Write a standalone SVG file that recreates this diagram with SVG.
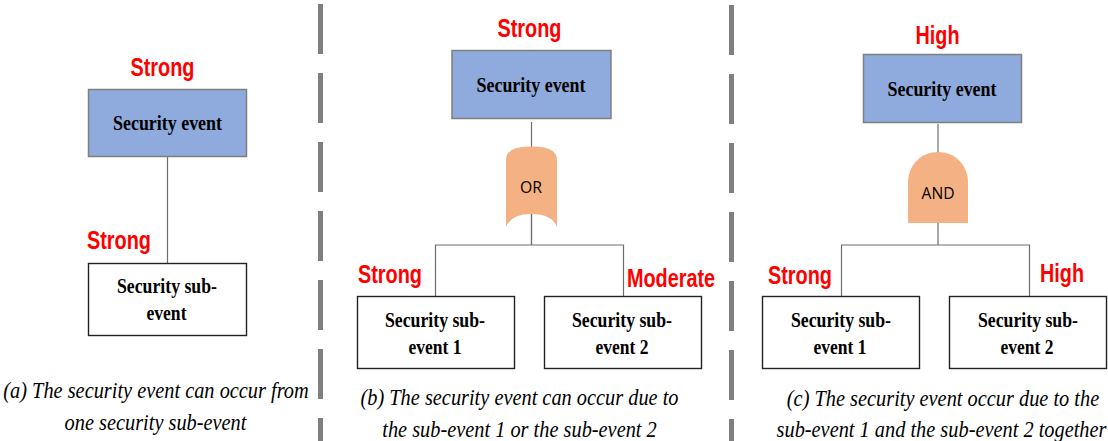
<svg xmlns="http://www.w3.org/2000/svg" width="1108" height="441" viewBox="0 0 1108 441">
<style>
.div{stroke:#7f7f7f;stroke-width:5;stroke-dasharray:50 19;fill:none}
.c{stroke:#6e6e6e;stroke-width:1.2;fill:none}
.top{fill:#8faadc;stroke:#7f7f7f;stroke-width:1.5}
.sub{fill:#fff;stroke:#222;stroke-width:1.4}
.gate{fill:#f4b183}
.r{font:bold 25px "Liberation Sans",Arial,sans-serif;fill:#f00;text-anchor:middle}
.n{font:bold 20px "Liberation Serif","Times New Roman",serif;fill:#000;text-anchor:middle}
.g{font:17px "Open Sans","Noto Sans",sans-serif;fill:#000;text-anchor:middle}
.cap{font:italic 23px "Liberation Serif","Times New Roman",serif;fill:#000;text-anchor:middle}
</style>
<rect width="1108" height="441" fill="#fff"/>
<g id="dividers">
<path class="div" d="M320.500 4V441"/>
<path class="div" d="M731.500 5V441"/>
</g>
<g id="connectors">
<path class="c" d="M167.500 157V263"/>
<path class="c" d="M531.500 122V245M435.500 296V245H623.500V296"/>
<path class="c" d="M938 124V245M841.500 296V245H1029.500V296"/>
</g>
<g id="a-top"><rect class="top" x="88.500" y="89.500" width="158" height="67"/><text class="n" x="167.500" y="130" textLength="109" lengthAdjust="spacingAndGlyphs">Security event</text></g>
<g id="a-sub"><rect class="sub" x="88.500" y="263.500" width="158" height="72"/><text class="n" x="167" y="293" textLength="100" lengthAdjust="spacingAndGlyphs">Security sub-</text><text class="n" x="166.500" y="320" textLength="40" lengthAdjust="spacingAndGlyphs">event</text></g>
<g id="b-top"><rect class="top" x="452" y="50.500" width="159" height="68"/><text class="n" x="531" y="92" textLength="109" lengthAdjust="spacingAndGlyphs">Security event</text></g>
<g id="b-or"><path class="gate" d="M506 227V160Q506 146 531 146.500Q557 146 557 160V227Q552 214 531 214Q511 214 506 227Z"/><path class="c" d="M531.500 214V245"/><text class="g" x="531" y="193" textLength="22" lengthAdjust="spacingAndGlyphs">OR</text></g>
<g id="b-sub1"><rect class="sub" x="357.500" y="296.500" width="157" height="72"/><text class="n" x="435" y="327" textLength="100" lengthAdjust="spacingAndGlyphs">Security sub-</text><text class="n" x="435" y="354" textLength="53" lengthAdjust="spacingAndGlyphs">event 1</text></g>
<g id="b-sub2"><rect class="sub" x="544.500" y="296.500" width="157" height="72"/><text class="n" x="622" y="327" textLength="100" lengthAdjust="spacingAndGlyphs">Security sub-</text><text class="n" x="622" y="354" textLength="53" lengthAdjust="spacingAndGlyphs">event 2</text></g>
<g id="c-top"><rect class="top" x="863.500" y="54.500" width="158" height="68"/><text class="n" x="942" y="96" textLength="109" lengthAdjust="spacingAndGlyphs">Security event</text></g>
<g id="c-and"><path class="gate" d="M908 223V183C908 164 922 152 938 152C954 152 968 164 968 183V223Z"/><text class="g" x="938" y="199" textLength="33" lengthAdjust="spacingAndGlyphs">AND</text></g>
<g id="c-sub1"><rect class="sub" x="762.500" y="296.500" width="157" height="72"/><text class="n" x="841" y="327" textLength="100" lengthAdjust="spacingAndGlyphs">Security sub-</text><text class="n" x="840" y="354" textLength="53" lengthAdjust="spacingAndGlyphs">event 1</text></g>
<g id="c-sub2"><rect class="sub" x="949.500" y="296.500" width="157" height="72"/><text class="n" x="1028" y="327" textLength="100" lengthAdjust="spacingAndGlyphs">Security sub-</text><text class="n" x="1027" y="354" textLength="53" lengthAdjust="spacingAndGlyphs">event 2</text></g>
<g id="labels">
<text class="r" x="162.500" y="76" textLength="64" lengthAdjust="spacingAndGlyphs">Strong</text>
<text class="r" x="119" y="249" textLength="64" lengthAdjust="spacingAndGlyphs">Strong</text>
<text class="r" x="529.500" y="37" textLength="64" lengthAdjust="spacingAndGlyphs">Strong</text>
<text class="r" x="390" y="283" textLength="64" lengthAdjust="spacingAndGlyphs">Strong</text>
<text class="r" x="671" y="287" textLength="88" lengthAdjust="spacingAndGlyphs">Moderate</text>
<text class="r" x="937.500" y="44" textLength="44" lengthAdjust="spacingAndGlyphs">High</text>
<text class="r" x="800" y="284" textLength="64" lengthAdjust="spacingAndGlyphs">Strong</text>
<text class="r" x="1062" y="282" textLength="44" lengthAdjust="spacingAndGlyphs">High</text>
</g>
<g id="captions">
<text class="cap" transform="translate(156 398) scale(.885 1)">(a) The security event can occur from</text>
<text class="cap" transform="translate(155.500 430) scale(.885 1)">one security sub-event</text>
<text class="cap" transform="translate(519.500 405) scale(.885 1)">(b) The security event can occur due to</text>
<text class="cap" transform="translate(519.500 437) scale(.885 1)">the sub-event 1 or the sub-event 2</text>
<text class="cap" transform="translate(943 406) scale(.885 1)">(c) The security event occur due to the</text>
<text class="cap" transform="translate(941.500 437) scale(.885 1)">sub-event 1 and the sub-event 2 together</text>
</g>
</svg>
